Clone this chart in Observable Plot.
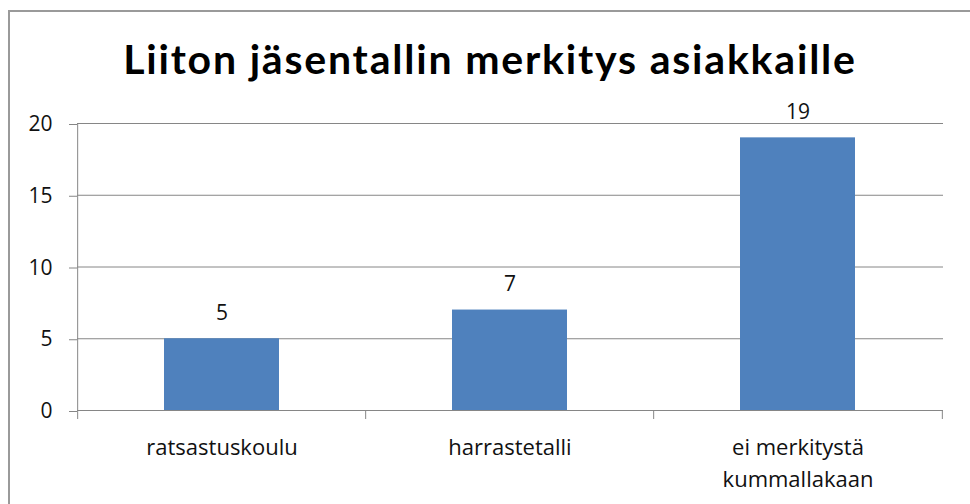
<!DOCTYPE html>
<html>
<head>
<meta charset="utf-8">
<script src="https://cdn.jsdelivr.net/npm/d3@7"></script>
<script src="https://cdn.jsdelivr.net/npm/@observablehq/plot@0.6"></script>
<style>
  html, body { margin: 0; padding: 0; background: #fff; }
  #wrap { position: relative; width: 970px; height: 504px; overflow: hidden; }
  #frame { position: absolute; left: 8px; top: 10px; width: 1000px; height: 600px; border-top: 2px solid #9a9a9a; border-left: 2px solid #9a9a9a; pointer-events: none; }
  #title { height: 88px; box-sizing: border-box; padding-top: 38px; padding-left: 10px; text-align: center; font-family: Lato, sans-serif; font-weight: bold; font-size: 41px; letter-spacing: 1.8px; line-height: 41px; color: #000; white-space: nowrap; }
  #chart svg { display: block; }
</style>
</head>
<body>
<div id="wrap">
  <div id="frame"></div>
  <div id="title">Liiton jäsentallin merkitys asiakkaille</div>
  <div id="chart"></div>
</div>
<script>
const categories = ["ratsastuskoulu", "harrastetalli", "ei merkitystä\nkummallakaan"];
const values = [5, 7, 19];
const yTicks = [0, 5, 10, 15, 20];

const data = categories.map((c, i) => ({category: c, value: values[i]}));

const W = 970, H = 416, ML = 77, MR = 27, MT = 35, MB = 94;
const step = (W - ML - MR) / categories.length;
const gray = "#868686";
const fs = 21;
const font = "'Open Sans', sans-serif";
const ink = "#111";

const plot = Plot.plot({
  width: W,
  height: H,
  marginLeft: ML,
  marginRight: MR,
  marginTop: MT,
  marginBottom: MB,
  style: {fontFamily: font, fontSize: fs + "px", color: ink, background: "transparent", overflow: "visible"},
  x: {domain: categories, paddingInner: 0.6, paddingOuter: 0.3, axis: null},
  y: {domain: [0, 20], ticks: yTicks, axis: null},
  marks: [
    Plot.gridY(yTicks, {stroke: gray, strokeOpacity: 1, strokeWidth: 1}),
    Plot.barY(data, {x: "category", y: "value", fill: "#4F81BD"}),
    Plot.ruleY([0], {stroke: gray, strokeWidth: 1}),
    Plot.ruleX([0], {x: () => categories[0], y1: 0, y2: 20, dx: -step / 2, stroke: gray}),
    Plot.axisY({ticks: yTicks, tickSize: 8, tickPadding: 17, stroke: gray, fontSize: fs, fill: ink, dy: 1, label: null}),
    Plot.ruleX(categories, {x: d => d, y1: 0, y2: 0, dx: -step / 2, stroke: gray, insetBottom: -9}),
    Plot.ruleX([categories[categories.length - 1]], {x: d => d, y1: 0, y2: 0, dx: step / 2, stroke: gray, insetBottom: -9}),
    Plot.text(data, {x: "category", y: 0, text: "category", lineAnchor: "top", dy: 22, lineHeight: 1.45, fontSize: 22, fill: ink}),
    Plot.text(data, {x: "category", y: "value", text: d => String(d.value), lineAnchor: "bottom", dy: -19, fontSize: fs, fill: ink})
  ]
});
document.getElementById("chart").appendChild(plot);
</script>
</body>
</html>
